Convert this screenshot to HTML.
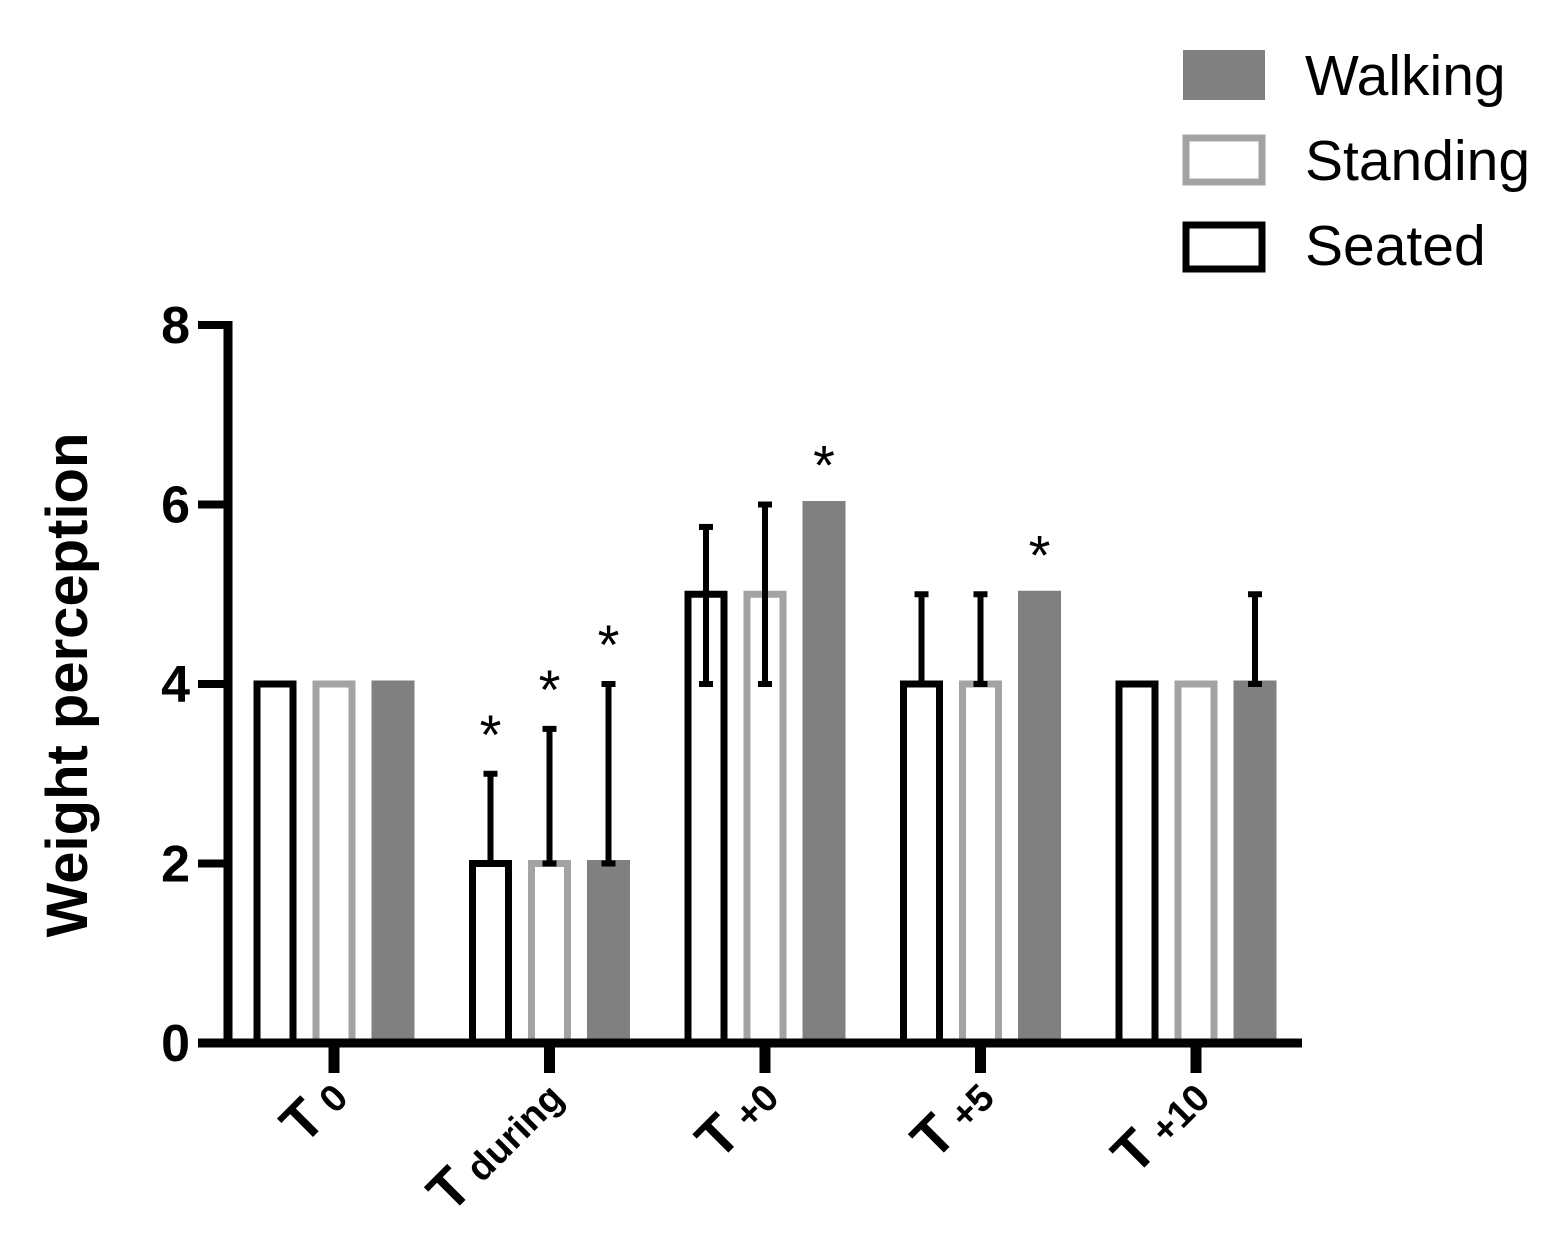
<!DOCTYPE html>
<html><head><style>body{margin:0;background:#fff}svg{display:block}text{font-family:"Liberation Sans",Arial,sans-serif}</style></head>
<body>
<svg id="chart" width="1565" height="1237" xmlns="http://www.w3.org/2000/svg">
<g>
<rect x="1183" y="50" width="82" height="50" fill="#808080"/>
<text x="1305" y="95" font-size="57">Walking</text>
<rect x="1186" y="138" width="76" height="44" fill="none" stroke="#a3a3a3" stroke-width="7"/>
<text x="1305" y="180" font-size="57">Standing</text>
<rect x="1186" y="225" width="76" height="44" fill="none" stroke="#000" stroke-width="7"/>
<text x="1305" y="265" font-size="57">Seated</text>
</g>
<text transform="translate(87,685) rotate(-90)" text-anchor="middle" font-size="58" font-weight="bold">Weight perception</text>
<g id="plot"></g>
</svg>
<script>
const categories=["0","during","+0","+5","+10"];
const seated=[4,2,5,4,4];
const standing=[4,2,5,4,4];
const walking=[4,2,6,5,4];
const seatedLo=[null,2,4,4,null], seatedHi=[null,3,5.75,5,null];
const standingLo=[null,2,4,4,null], standingHi=[null,3.5,6,5,null];
const walkingLo=[null,2,null,null,4], walkingHi=[null,4,null,null,5];
const seatedStar=[false,true,false,false,false];
const standingStar=[false,true,false,false,false];
const walkingStar=[false,true,true,true,false];
const yTicks=[0,2,4,6,8];
const NS="http://www.w3.org/2000/svg";
const g=document.getElementById('plot');
const y0=1043,yTop=325,yMax=8;
const y=v=>y0-(y0-yTop)*v/yMax;
const xc=i=>334+i*215.5;
function el(tag,attrs,parent){const e=document.createElementNS(NS,tag);for(const k in attrs)e.setAttribute(k,attrs[k]);(parent||g).appendChild(e);return e;}
const series=[
 {name:'seated',vals:seated,lo:seatedLo,hi:seatedHi,star:seatedStar,off:-59,fill:'#fff',stroke:'#000'},
 {name:'standing',vals:standing,lo:standingLo,hi:standingHi,star:standingStar,off:0,fill:'#fff',stroke:'#a3a3a3'},
 {name:'walking',vals:walking,lo:walkingLo,hi:walkingHi,star:walkingStar,off:59,fill:'#808080',stroke:'#808080'}];
series.forEach(s=>{
 s.vals.forEach((v,i)=>{
  const cx=xc(i)+s.off;
  const r=el('rect',{x:cx-18,y:y(v),width:36,height:y0-y(v),fill:s.fill,stroke:s.stroke,'stroke-width':7});
  
  
  if(s.lo[i]!=null){
   const eg=el('g',{stroke:'#000','stroke-width':6});
   
   
   el('line',{x1:cx,x2:cx,y1:y(s.lo[i]),y2:y(s.hi[i])},eg);
   el('line',{x1:cx-7,x2:cx+7,y1:y(s.hi[i]),y2:y(s.hi[i])},eg);
   el('line',{x1:cx-7,x2:cx+7,y1:y(s.lo[i]),y2:y(s.lo[i])},eg);
  }
  if(s.star[i]){
   const top=s.hi[i]!=null?y(s.hi[i]):y(v);
   const t=el('text',{x:cx,y:top+22,'text-anchor':'middle','font-size':56});
   t.setAttribute('transform',`translate(0,-42)`);
   t.textContent='*';
   
   
  }
 });
});
const ya=el('line',{x1:228,x2:228,y1:321,y2:1047,stroke:'#000','stroke-width':9});


yTicks.forEach(v=>{
 el('line',{x1:198,x2:228,y1:y(v),y2:y(v),stroke:'#000','stroke-width':8});
 const t=el('text',{x:190,y:y(v)+18,'text-anchor':'end','font-size':52,'font-weight':'bold'});
 t.textContent=v;
 
 
});
const xa=el('line',{x1:198,x2:1302,y1:y0,y2:y0,stroke:'#000','stroke-width':9});


categories.forEach((c,i)=>{
 const x=xc(i);
 el('line',{x1:x,x2:x,y1:y0,y2:1073,stroke:'#000','stroke-width':11});
 const t=el('text',{transform:`translate(${x+16},1100) rotate(-45)`,'text-anchor':'end','font-weight':'bold','font-size':56});
 
 
 const a=el('tspan',{},t);a.textContent='T';
 const b=el('tspan',{'font-size':38,dx:10},t);b.textContent=c;
});
</script>
</body></html>
